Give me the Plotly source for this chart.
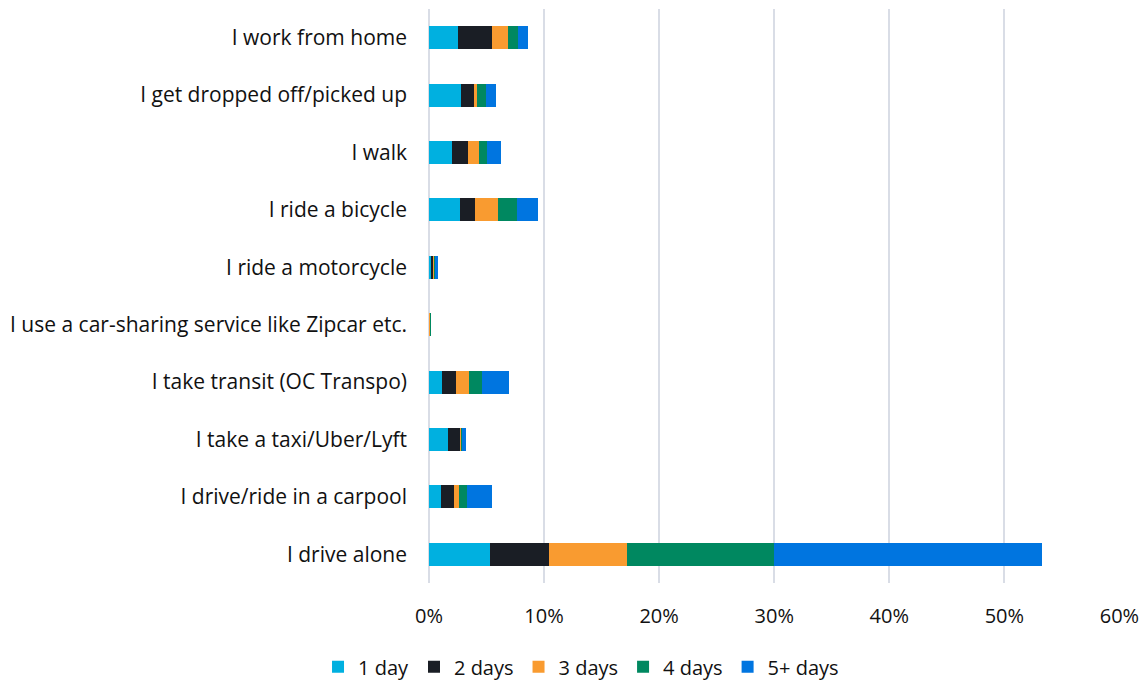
import plotly.graph_objects as go

categories = [
    "I work from home",
    "I get dropped off/picked up",
    "I walk",
    "I ride a bicycle",
    "I ride a motorcycle",
    "I use a car-sharing service like Zipcar etc.",
    "I take transit (OC Transpo)",
    "I take a taxi/Uber/Lyft",
    "I drive/ride in a carpool",
    "I drive alone",
]

series_names = ["1 day", "2 days", "3 days", "4 days", "5+ days"]

one_day = [2.5, 2.8, 2.0, 2.67, 0.15, 0.05, 1.16, 1.65, 1.07, 5.3]
two_days = [3.0, 1.1, 1.36, 1.33, 0.2, 0.0, 1.16, 1.1, 1.1, 5.1]
three_days = [1.35, 0.26, 1.0, 1.97, 0.1, 0.05, 1.13, 0.09, 0.41, 6.8]
four_days = [0.85, 0.8, 0.64, 1.68, 0.05, 0.05, 1.16, 0.03, 0.72, 12.8]
five_plus = [0.9, 0.9, 1.22, 1.83, 0.3, 0.0, 2.35, 0.32, 2.2, 23.3]

colors = ["#00B0E0", "#1A1E25", "#F99B30", "#008860", "#0075E0"]

x_ticks = [0, 10, 20, 30, 40, 50, 60]
x_tick_labels = ["0%", "10%", "20%", "30%", "40%", "50%", "60%"]

all_series = [one_day, two_days, three_days, four_days, five_plus]

fig = go.Figure()
for name, vals, col in zip(series_names, all_series, colors):
    fig.add_trace(go.Bar(
        y=categories,
        x=vals,
        name=name,
        orientation="h",
        marker=dict(color=col, line=dict(width=0)),
    ))

font_family = "'Open Sans', Lato, sans-serif"

# page body has an 8px margin, so the figure is sized 8px smaller
fig.update_layout(
    barmode="stack",
    bargap=0.6,
    width=1140,
    height=673,
    margin=dict(l=421, r=28, t=1, b=98, autoexpand=False),
    paper_bgcolor="white",
    plot_bgcolor="white",
    font=dict(family=font_family, size=21, color="#111111"),
    legend=dict(
        orientation="h",
        x=0.22,
        xanchor="center",
        y=-0.146,
        yanchor="middle",
        font=dict(size=20),
        traceorder="normal",
        itemwidth=30,
    ),
    xaxis=dict(
        range=[0, 60.05],
        tickvals=x_ticks,
        ticktext=x_tick_labels,
        tickfont=dict(size=20),
        showgrid=True,
        gridcolor="#D9DDE6",
        gridwidth=1.5,
        zeroline=True,
        zerolinecolor="#D9DDE6",
        zerolinewidth=1.5,
        showline=False,
        ticks="",
        ticklabelstandoff=19,
        automargin=False,
    ),
    yaxis=dict(
        autorange="reversed",
        showgrid=False,
        zeroline=False,
        showline=False,
        ticks="",
        ticklabelstandoff=21,
        automargin=False,
    ),
)

fig.write_html("out.html")
